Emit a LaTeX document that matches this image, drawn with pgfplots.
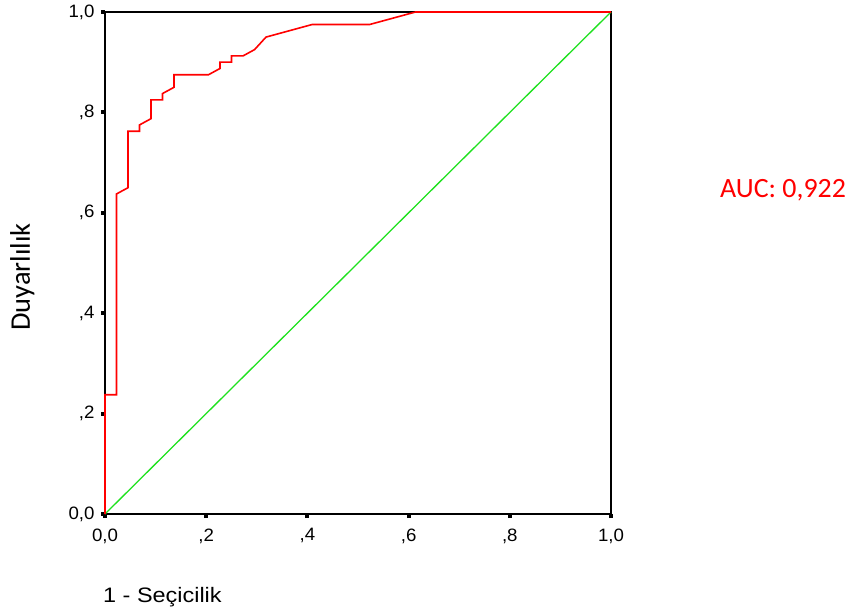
\documentclass[border=0pt]{standalone}
\usepackage{fontspec}
\setmainfont{Liberation Sans}
\newfontfamily\calib{Carlito}
\usepackage{pgfplots}
\pgfplotsset{compat=1.18}
\definecolor{rocred}{RGB}{255,0,0}
\definecolor{rocgreen}{RGB}{30,225,30}
\newcommand{\tl}[1]{\scalebox{1.04}[1]{#1}}
\begin{document}
\begin{tikzpicture}
\useasboundingbox (-105bp,-98bp) rectangle (750bp,514bp);
\begin{axis}[
  at={(0,0)}, anchor=south west,
  scale only axis, width=506bp, height=502bp,
  xmin=0, xmax=1, ymin=0, ymax=1,
  clip=false,
  axis line style={line width=1.6bp, black},
  xtick={0,0.2,0.4,0.6,0.8,1},
  ytick={0,0.2,0.4,0.6,0.8,1},
  xticklabels={{\tl{0,0}},{\tl{,2}},{\tl{,4}},{\tl{,6}},{\tl{,8}},{\tl{1,0}}},
  yticklabels={{\tl{0,0}},{\tl{,2}},{\tl{,4}},{\tl{,6}},{\tl{,8}},{\tl{1,0}}},
  tick align=outside,
  major tick length=4bp,
  tick style={line width=4bp, black},
  xtick pos=bottom, ytick pos=left,
  ticklabel style={font=\fontsize{18}{20}\selectfont},
  xticklabel style={yshift=-7bp},
  yticklabel style={xshift=-3bp},
]
\addplot[rocgreen, line width=1.3bp] coordinates {(0,0) (1,1)};
\addplot[rocred, line width=1.6bp] coordinates {
(0,0) (0,0.2375) (0.0227,0.2375) (0.0227,0.6375) (0.0455,0.65)
(0.0455,0.7625) (0.0682,0.7625) (0.0682,0.775) (0.0909,0.7875)
(0.0909,0.825) (0.1136,0.825) (0.1136,0.8375) (0.1364,0.85)
(0.1364,0.875) (0.2045,0.875) (0.2273,0.8875) (0.2273,0.9)
(0.25,0.9) (0.25,0.9125) (0.2727,0.9125) (0.2955,0.925)
(0.3182,0.95) (0.4091,0.975) (0.5227,0.975) (0.6136,1) (1,1)};
\node[anchor=base west, inner sep=0pt, font=\fontsize{21}{24}\selectfont,
  xshift=-2bp, yshift=-88bp]
  at (rel axis cs:0,0) {\scalebox{1.12}[1]{1 - Seçicilik}};
\node[inner sep=0pt, font=\calib\fontsize{28.5}{30}\selectfont,
  xshift=-75bp, yshift=237bp, rotate=90, anchor=base]
  at (rel axis cs:0,0) {Duyarlılık};
\node[anchor=base west, inner sep=0pt, text=rocred, font=\calib\fontsize{28}{30}\selectfont,
  xshift=615bp, yshift=316bp]
  at (rel axis cs:0,0) {AUC: 0,922};
\end{axis}
\end{tikzpicture}
\end{document}
